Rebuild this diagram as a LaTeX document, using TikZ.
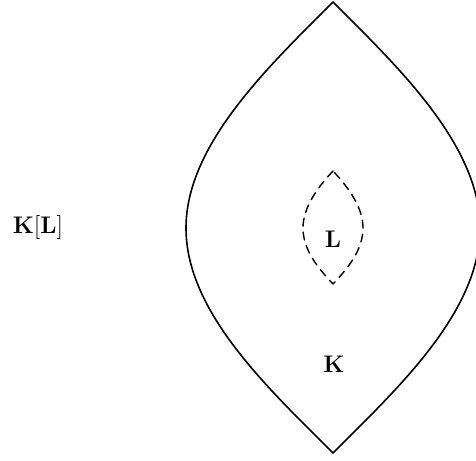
\documentclass[tikz,border=0pt]{standalone}
\usepackage{amsmath,amssymb}
\usepackage{tikz}

\begin{document}
\begin{tikzpicture}[x=0.5pt,y=-0.5pt, font=\large, line join=round, line cap=round]
	\useasboundingbox (0,0) rectangle (476,460);
	\coordinate (T) at (333,2);
	\coordinate (B) at (333,453);
	\coordinate (W) at (186,228);
	\coordinate (E) at (480,228);
	\coordinate (t) at (333,171);
	\coordinate (b) at (333,284);
	\coordinate (w) at (303,228);
	\coordinate (e) at (363,228);
	\draw[line width=0.8pt] (T) .. controls (268,67) and (186,145) .. (W)
		.. controls (186,312) and (268,388) .. (B)
		.. controls (398,388) and (480,312) .. (E)
		.. controls (480,145) and (398,67) .. (T) -- cycle;
	\draw[line width=0.7pt, dash pattern=on 4pt off 3pt] (t) .. controls (318,187) and (303,207) .. (w)
		.. controls (303,250) and (318,268) .. (b)
		.. controls (348,268) and (363,250) .. (e)
		.. controls (363,207) and (348,187) .. (t) -- cycle;
	\node (KL) at (38,227) {$\mathbf{K}[\mathbf{L}]$};
	\node (L) at (333,239) {$\mathbf{L}$};
	\node (K) at (334,364) {$\mathbf{K}$};
\end{tikzpicture}
\end{document}
